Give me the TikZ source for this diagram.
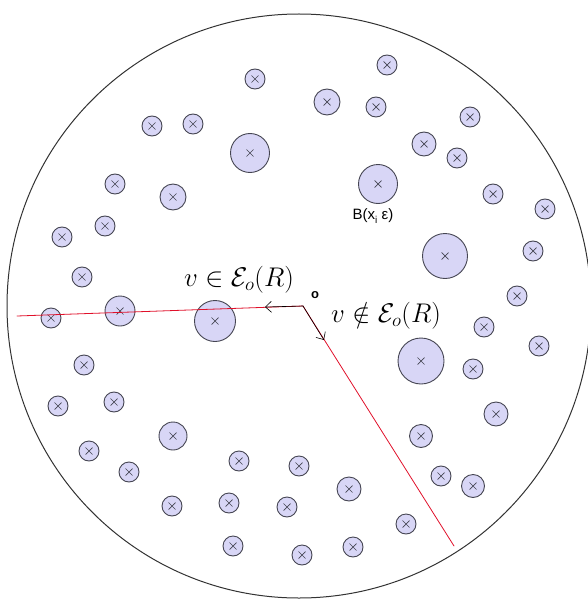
\documentclass[tikz,border=0pt]{standalone}
\usepackage{fix-cm}
\usepackage{amsfonts,amsmath,amssymb}
\usepackage{fontspec}
\newfontfamily\labelfont{Liberation Sans}
\usepackage{tikz}
\usetikzlibrary{arrows.meta}
\definecolor{ballfill}{HTML}{D8D6F6}
\definecolor{balledge}{HTML}{454552}
\definecolor{rayred}{HTML}{E0102A}
\tikzset{
  every picture/.style={line join=round, line cap=round},
  ball/.style={fill=ballfill, draw=balledge, line width=0.9pt},
  cross/.style={draw=balledge, line width=0.7pt},
  ray/.style={rayred, line width=0.8pt},
  dir/.style={-{Straight Barb[length=6pt,width=11pt]}, line width=0.6pt},
  bigmath/.style={font=\fontsize{27}{32}\selectfont, inner sep=0pt},
}

\begin{document}
\begin{tikzpicture}[x=1pt,y=-1pt]
\useasboundingbox (0,0) rectangle (588,599);
\draw[line width=1pt,black!80] (299,306) circle[radius=292pt];
% balls B(x_i,eps)
\foreach \x/\y/\r in {255/79/10, 387/65/10, 376/107/10, 470/117/10, 457/158/10,
  152/126/10, 193/124/10, 115/184/10, 105/226/10, 62/237/10, 82/277/10,
  493/194/10, 545/209/10, 533/251/10, 517/296/10, 51/318/10, 84/365/10,
  58/406/10, 114/402/10, 89/451/10, 129/472/10, 239/461/10, 172/506/10,
  229/503/10, 233/546/10, 299/466/10, 287/507/10, 302/555/10, 484/327/10,
  539/346/10, 473/369/10, 441/476/10, 406/524/10, 353/547/10,
  424/144/12, 496/414/12, 421/436/11.5, 473/486/11.5, 349/489/12,
  327/102/13, 173/197/13, 120/311/15, 173/436/14,
  250/153/19.5, 378/184/19.5, 215/321/20.5, 445/256/22.5, 421/361/23}{
  \filldraw[ball] (\x,\y) circle[radius=\r pt];
  \draw[cross] (\x-3.3,\y-3.3) -- (\x+3.3,\y+3.3) (\x-3.3,\y+3.3) -- (\x+3.3,\y-3.3);
}
% rays from o
\coordinate (o) at (303,306);
\coordinate (left end) at (17,316);
\coordinate (low end) at (454,546);
\draw[ray] (left end) -- (o) -- (low end);
\draw[dir] (o) -- (265,307);
\draw[dir] (o) -- (324,340);
\node (olab) [font=\labelfont\bfseries\fontsize{13}{13}\selectfont, inner sep=0pt] at (315,295) {o};
\node (inlab) [bigmath] at (239,280) {$v\in\mathcal{E}_o(R)$};
\node (outlab) [bigmath] at (386,316) {$v\notin\mathcal{E}_o(R)$};
\node (blab) [font=\labelfont\fontsize{15}{15}\selectfont, inner sep=0pt] at (373,216)
  {B(x\raisebox{-4pt}{\fontsize{10}{10}\selectfont i} ε)};
\end{tikzpicture}
\end{document}
